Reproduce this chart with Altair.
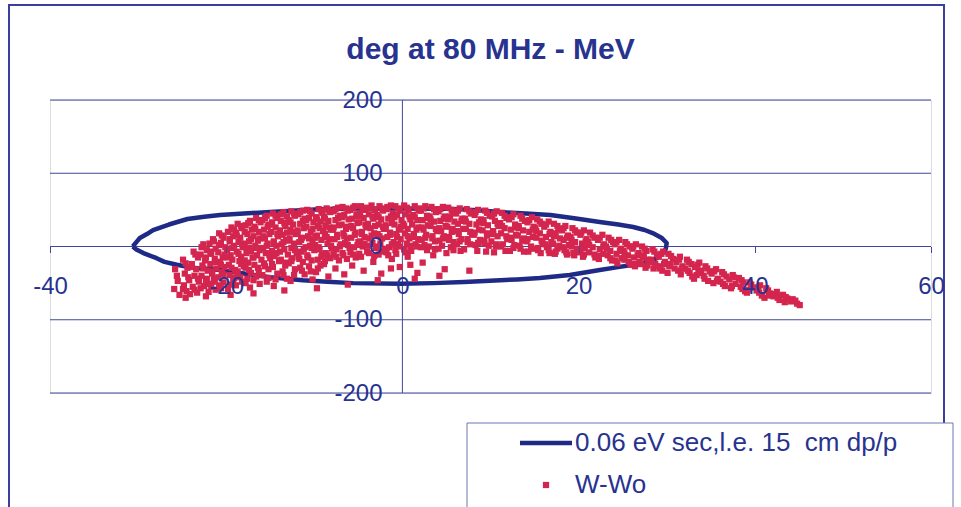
import altair as alt
import pandas as pd

# ---------------- data ----------------
title_text = "deg at 80 MHz - MeV"
series_names = ["0.06 eV sec,l.e. 15\u00a0 cm dp/p", "W-Wo"]
x_ticks = [-40, -20, 0, 20, 40, 60]
y_ticks = [-200, -100, 0, 100, 200]

# closed acceptance curve (deg, MeV), traced in drawing order
loop_pts = [(-30.6, 0), (-30.2, 6), (-29.8, 11.6), (-29.0, 17), (-28.3, 22.5), (-26.5, 30),
            (-24.4, 37.5), (-22.5, 40.5), (-20.7, 43), (-18.0, 45), (-15.0, 47), (-12.0, 49),
            (-9.4, 51), (-5.0, 52), (0.0, 52), (5.0, 51.5), (8.0, 50), (11.1, 47), (14.0, 45),
            (16.8, 43), (19.5, 38.5), (22.4, 33.5), (24.5, 30), (26.2, 26.6), (27.5, 22.5),
            (28.4, 18.4), (29.4, 12), (30.0, 4.8), (29.9, -3), (29.5, -10), (28.9, -16),
            (27.8, -21), (26.2, -25), (24.3, -28.5), (22.4, -32), (20.7, -35.5), (19.0, -39),
            (17.3, -41), (15.6, -43), (13.0, -45), (11.1, -46), (7.0, -48.5), (3.5, -50),
            (-0.2, -51), (-5.6, -50), (-8.5, -48), (-11.3, -46), (-15.0, -42), (-18.0, -37),
            (-20.7, -32), (-23.8, -29), (-25.6, -25), (-27.0, -21), (-27.9, -16), (-29.4, -9),
            (-30.2, -4), (-30.6, 0)]

cloud_left = [
    (-25.8, -31), (-25.5, -47), (-25.9, -58), (-25.3, -66), (-25.6, -40),
    (-24.9, -18), (-24.4, -29), (-24.7, -37), (-24.2, -46), (-24.8, -53), (-24.5, -61), (-24.1, -65),
    (-23.7, -7), (-23.2, -15), (-23.9, -24), (-23.4, -31), (-23.6, -40), (-23.1, -48), (-23.8, -55), (-23.3, -63),
    (-22.6, 3), (-22.2, -5), (-22.9, -11), (-22.4, -19), (-22.7, -26), (-22.1, -33), (-22.8, -40), (-22.3, -47), (-22.5, -54), (-22.0, -62),
    (-21.5, 10), (-21.9, 4), (-21.2, -3), (-21.7, -10), (-21.3, -17), (-21.8, -24), (-21.1, -30), (-21.6, -37), (-21.4, -44), (-21.9, -51), (-21.2, -59),
    (-20.8, 18), (-20.3, 12), (-20.6, 5), (-20.1, -1), (-20.9, -8), (-20.4, -15), (-20.7, -21), (-20.2, -28), (-20.5, -35), (-20.9, -42), (-20.3, -49), (-20.6, -57),
    (-19.4, 26), (-19.8, 20), (-19.2, 14), (-19.6, 7), (-19.1, 1), (-19.9, -5), (-19.5, -12), (-19.3, -18), (-19.7, -25), (-19.0, -32), (-19.6, -39), (-19.2, -47), (-19.8, -58),
    (-18.7, 31), (-18.2, 25), (-18.9, 19), (-18.4, 12), (-18.6, 6), (-18.1, -1), (-18.8, -7), (-18.3, -14), (-18.5, -20), (-18.0, -27), (-18.7, -34), (-18.4, -42), (-18.9, -53),
    (-17.3, 35), (-17.8, 29), (-17.1, 23), (-17.6, 17), (-17.2, 10), (-17.9, 4), (-17.4, -2), (-17.7, -9), (-17.0, -15), (-17.5, -22), (-17.8, -29), (-17.2, -36), (-17.6, -44), (-17.3, -56),
    (-16.6, 39), (-16.1, 33), (-16.8, 27), (-16.3, 20), (-16.9, 14), (-16.4, 8), (-16.7, 1), (-16.2, -5), (-16.5, -12), (-16.0, -18), (-16.8, -25), (-16.3, -33), (-16.6, -41), (-16.2, -51),
    (-15.4, 42), (-15.9, 36), (-15.2, 30), (-15.7, 23), (-15.1, 17), (-15.6, 11), (-15.3, 4), (-15.8, -2), (-15.5, -9), (-15.0, -16), (-15.7, -23), (-15.2, -31), (-15.9, -39), (-15.4, -48),
    (-14.7, 45), (-14.2, 39), (-14.8, 33), (-14.4, 26), (-14.9, 20), (-14.1, 14), (-14.6, 7), (-14.3, 1), (-14.8, -6), (-14.5, -13), (-14.0, -20), (-14.7, -28), (-14.2, -37), (-14.6, -54),
    (-13.5, 47), (-13.1, 41), (-13.8, 35), (-13.3, 28), (-13.9, 22), (-13.6, 16), (-13.2, 9), (-13.7, 3), (-13.4, -4), (-13.0, -11), (-13.8, -18), (-13.3, -26), (-13.6, -34), (-13.1, -44),
    (-12.6, 48), (-12.2, 42), (-12.9, 36), (-12.4, 30), (-12.7, 23), (-12.1, 17), (-12.8, 11), (-12.3, 4), (-12.6, -2), (-12.0, -9), (-12.5, -16), (-12.9, -23), (-12.2, -31), (-12.7, -47),
    (-11.3, 49), (-11.8, 44), (-11.1, 38), (-11.6, 31), (-11.2, 25), (-11.9, 19), (-11.4, 12), (-11.7, 6), (-11.0, -1), (-11.5, -7), (-11.8, -14), (-11.3, -21), (-11.6, -29), (-11.1, -38),
    (-10.8, 50), (-10.3, 45), (-10.6, 39), (-10.1, 33), (-10.9, 27), (-10.4, 20), (-10.7, 14), (-10.2, 8), (-10.5, 1), (-10.0, -5), (-10.8, -12), (-10.3, -19), (-10.6, -27), (-10.2, -45),
    (-24.6, -70), (-22.3, -68), (-19.5, -66), (-16.9, -64), (-13.4, -60),
]

cloud_center = [
    (-9.5, 51), (-9.1, 46), (-9.8, 40), (-9.3, 34), (-9.6, 28), (-9.0, 21), (-9.7, 15), (-9.2, 9), (-9.9, 2), (-9.4, -4), (-9.1, -11), (-9.6, -18), (-9.3, -26), (-9.8, -35),
    (-8.6, 52), (-8.2, 47), (-8.9, 41), (-8.4, 35), (-8.7, 29), (-8.1, 23), (-8.8, 17), (-8.3, 10), (-8.5, 4), (-8.0, -3), (-8.7, -9), (-8.2, -16), (-8.9, -24), (-8.4, -41),
    (-7.3, 53), (-7.8, 48), (-7.1, 42), (-7.6, 36), (-7.2, 29), (-7.9, 23), (-7.4, 16), (-7.7, 10), (-7.0, 3), (-7.5, -4), (-7.8, -11), (-7.2, -19), (-7.6, -30),
    (-6.8, 54), (-6.2, 49), (-6.6, 43), (-6.1, 37), (-6.9, 30), (-6.4, 24), (-6.7, 18), (-6.3, 11), (-6.5, 5), (-6.0, -2), (-6.8, -9), (-6.3, -17), (-6.6, -38),
    (-5.4, 55), (-5.9, 50), (-5.2, 44), (-5.7, 38), (-5.1, 32), (-5.6, 25), (-5.3, 19), (-5.8, 12), (-5.0, 6), (-5.5, -1), (-5.9, -8), (-5.3, -15), (-5.7, -26),
    (-4.7, 55), (-4.2, 50), (-4.8, 45), (-4.4, 39), (-4.9, 33), (-4.1, 26), (-4.6, 20), (-4.3, 13), (-4.8, 7), (-4.5, 0), (-4.0, -7), (-4.7, -14), (-4.4, -33),
    (-3.5, 56), (-3.1, 50), (-3.8, 44), (-3.3, 38), (-3.9, 31), (-3.6, 25), (-3.2, 18), (-3.7, 11), (-3.4, 5), (-3.0, -2), (-3.8, -9), (-3.3, -21),
    (-2.6, 55), (-2.2, 49), (-2.9, 43), (-2.4, 37), (-2.7, 30), (-2.1, 24), (-2.8, 17), (-2.3, 11), (-2.5, 4), (-2.0, -3), (-2.7, -11), (-2.4, -37),
    (-1.3, 56), (-1.8, 51), (-1.1, 45), (-1.6, 38), (-1.2, 32), (-1.9, 26), (-1.4, 19), (-1.7, 13), (-1.0, 6), (-1.5, -1), (-1.8, -8), (-1.2, -17),
    (-0.8, 55), (-0.3, 49), (-0.6, 43), (-0.1, 36), (-0.9, 30), (-0.4, 23), (-0.7, 17), (-0.2, 10), (-0.5, 3), (-0.8, -5), (-0.3, -28),
    (0.2, 56), (0.7, 50), (0.4, 44), (0.9, 37), (0.1, 31), (0.6, 24), (0.3, 18), (0.8, 11), (0.5, 4), (0.2, -4), (0.6, -14),
    (1.4, 55), (1.9, 49), (1.2, 43), (1.7, 36), (1.1, 30), (1.6, 23), (1.3, 17), (1.8, 10), (1.5, 3), (1.0, -6), (1.7, -36),
    (2.6, 55), (2.1, 49), (2.8, 42), (2.3, 36), (2.9, 29), (2.4, 23), (2.7, 16), (2.2, 9), (2.5, 2), (2.8, -5), (2.3, -22),
    (3.3, 54), (3.8, 47), (3.1, 41), (3.6, 34), (3.2, 28), (3.9, 21), (3.4, 14), (3.7, 7), (3.0, 0), (3.5, -12),
    (4.6, 54), (4.1, 48), (4.8, 41), (4.3, 35), (4.9, 28), (4.4, 21), (4.7, 14), (4.2, 8), (4.5, 1), (4.8, -31),
    (5.2, 53), (5.7, 47), (5.4, 41), (5.9, 34), (5.1, 27), (5.6, 20), (5.3, 13), (5.8, 6), (5.5, -1), (5.0, -9),
    (6.5, 52), (6.1, 45), (6.8, 38), (6.3, 31), (6.9, 24), (6.4, 17), (6.7, 10), (6.2, 3), (6.6, -6),
    (7.3, 51), (7.8, 45), (7.1, 38), (7.6, 31), (7.2, 24), (7.9, 17), (7.4, 10), (7.7, 3), (7.0, -4),
    (8.6, 50), (8.2, 43), (8.9, 37), (8.4, 30), (8.7, 23), (8.1, 16), (8.8, 9), (8.3, 2), (8.5, -6),
    (9.4, 49), (9.9, 42), (9.2, 36), (9.7, 29), (9.1, 22), (9.6, 15), (9.3, 8), (9.8, 1), (9.5, -7),
    (-9.7, -57), (-6.2, -52), (-2.8, -46), (1.4, -44), (4.2, -40), (7.6, -33), (0.9, -25), (-1.3, -30),
]

cloud_right = [
    (10.7, 48), (10.2, 41), (10.5, 35), (10.9, 28), (10.3, 21), (10.8, 14), (10.1, 7), (10.6, 0), (10.4, -8),
    (11.3, 46), (11.8, 39), (11.1, 32), (11.6, 25), (11.2, 18), (11.9, 10), (11.4, 3), (11.7, -6),
    (12.6, 44), (12.1, 37), (12.8, 30), (12.3, 23), (12.9, 16), (12.4, 9), (12.7, 2), (12.2, -6),
    (13.4, 42), (13.9, 35), (13.2, 28), (13.7, 22), (13.1, 15), (13.6, 8), (13.3, 1), (13.8, -7),
    (14.7, 40), (14.2, 33), (14.9, 27), (14.4, 20), (14.8, 13), (14.1, 7), (14.6, 0), (14.3, -7),
    (15.3, 37), (15.8, 31), (15.1, 25), (15.6, 18), (15.2, 12), (15.9, 5), (15.4, -2), (15.7, -9),
    (16.6, 34), (16.1, 27), (16.8, 20), (16.3, 13), (16.9, 6), (16.4, -1), (16.7, -9),
    (17.2, 31), (17.7, 24), (17.4, 18), (17.9, 11), (17.1, 4), (17.6, -3), (17.3, -10),
    (18.5, 28), (18.1, 22), (18.8, 15), (18.3, 9), (18.9, 2), (18.4, -5), (18.7, -11),
    (19.3, 25), (19.8, 19), (19.1, 13), (19.6, 6), (19.2, 0), (19.9, -6), (19.5, -12),
    (20.6, 22), (20.2, 16), (20.9, 10), (20.4, 4), (20.7, -2), (20.1, -8), (20.5, -14),
    (21.3, 19), (21.8, 12), (21.1, 6), (21.6, -1), (21.2, -8), (21.9, -15),
    (22.7, 16), (22.2, 9), (22.9, 3), (22.4, -4), (22.8, -10), (22.3, -17),
    (23.4, 12), (23.9, 6), (23.1, 0), (23.6, -6), (23.3, -12), (23.8, -19),
    (24.6, 9), (24.1, 3), (24.8, -3), (24.3, -10), (24.9, -16), (24.4, -23),
    (25.3, 6), (25.8, 0), (25.1, -6), (25.6, -12), (25.2, -18), (25.9, -25),
    (26.5, 3), (26.1, -3), (26.8, -9), (26.3, -15), (26.9, -21), (26.4, -27),
    (27.2, 0), (27.7, -6), (27.4, -12), (27.9, -18), (27.1, -24), (27.6, -29),
    (28.4, -4), (28.9, -11), (28.2, -18), (28.7, -24), (28.5, -30),
    (29.6, -7), (29.1, -14), (29.8, -21), (29.3, -27), (29.5, -33),
]

cloud_tail = [
    (30.2, -10), (30.7, -17), (30.4, -24), (30.9, -30), (30.1, -36),
    (31.5, -14), (31.1, -21), (31.8, -27), (31.3, -33), (31.6, -38),
    (32.3, -18), (32.8, -24), (32.1, -30), (32.6, -36), (32.9, -41),
    (33.7, -22), (33.2, -28), (33.9, -33), (33.4, -39), (33.1, -44),
    (34.4, -27), (34.9, -34), (34.2, -40), (34.7, -47),
    (35.6, -31), (35.1, -37), (35.8, -44), (35.3, -50),
    (36.3, -35), (36.8, -41), (36.1, -48), (36.6, -54),
    (37.5, -39), (37.1, -45), (37.8, -51), (37.3, -57),
    (38.2, -43), (38.7, -49), (38.4, -55), (38.9, -61),
    (39.4, -49), (39.8, -56), (39.1, -63),
    (40.6, -53), (40.2, -60), (40.8, -67),
    (41.3, -57), (41.7, -64), (41.1, -70),
    (42.5, -62), (42.1, -68), (42.8, -73),
    (43.2, -66), (43.7, -71), (43.4, -76),
    (44.3, -72), (44.8, -78),
    (45.1, -80),
]

cloud_fill = [
    (-24.6, -23), (-24.3, -42), (-24.9, -58),
    (-23.5, -11), (-23.9, -28), (-23.2, -44), (-23.6, -59),
    (-22.8, -1), (-22.3, -15), (-22.6, -30), (-22.2, -44), (-22.9, -57),
    (-21.4, 7), (-21.8, -7), (-21.2, -21), (-21.6, -34), (-21.3, -48), (-21.7, -55),
    (-20.5, 15), (-20.8, 2), (-20.2, -11), (-20.6, -25), (-20.3, -38), (-20.8, -53),
    (-19.1, 23), (-19.6, 10), (-19.3, -2), (-19.8, -15), (-19.4, -29), (-19.1, -43), (-19.5, -52),
    (-18.3, 28), (-18.8, 15), (-18.2, 3), (-18.6, -10), (-18.3, -24), (-18.8, -38), (-18.2, -48),
    (-17.5, 32), (-17.9, 20), (-17.4, 7), (-17.2, -6), (-17.9, -19), (-17.4, -32), (-17.8, -50),
    (-16.3, 36), (-16.7, 24), (-16.2, 11), (-16.5, -2), (-16.9, -15), (-16.4, -29), (-16.9, -46),
    (-15.6, 39), (-15.3, 27), (-15.8, 14), (-15.4, 1), (-15.1, -12), (-15.6, -27), (-15.2, -43),
    (-14.4, 42), (-14.8, 30), (-14.2, 17), (-14.6, 4), (-14.3, -9), (-14.8, -24), (-14.4, -45),
    (-13.8, 44), (-13.4, 32), (-13.1, 19), (-13.5, 6), (-13.9, -7), (-13.2, -22), (-13.5, -39),
    (-12.3, 45), (-12.7, 33), (-12.4, 20), (-12.9, 8), (-12.2, -5), (-12.6, -20), (-12.3, -39),
    (-11.6, 47), (-11.3, 35), (-11.9, 22), (-11.5, 9), (-11.2, -4), (-11.7, -17), (-11.4, -33),
    (-10.5, 48), (-10.9, 36), (-10.2, 24), (-10.6, 11), (-10.3, -2), (-10.7, -15), (-10.4, -34),
    (-9.2, 49), (-9.7, 37), (-9.4, 25), (-9.9, 12), (-9.5, -1), (-9.2, -14), (-9.6, -30),
    (-8.4, 50), (-8.8, 38), (-8.3, 26), (-8.6, 13), (-8.1, 1), (-8.5, -12), (-8.8, -20),
    (-7.6, 51), (-7.3, 39), (-7.8, 26), (-7.4, 13), (-7.1, 0), (-7.5, -14),
    (-6.4, 52), (-6.8, 40), (-6.3, 27), (-6.6, 14), (-6.2, 2), (-6.7, -12),
    (-5.6, 53), (-5.2, 41), (-5.8, 28), (-5.4, 16), (-5.1, 2), (-5.6, -11),
    (-4.5, 53), (-4.9, 42), (-4.2, 30), (-4.6, 17), (-4.3, 4), (-4.9, -10),
    (-3.8, 53), (-3.4, 41), (-3.1, 28), (-3.5, 15), (-3.9, 1), (-3.2, -13),
    (-2.3, 52), (-2.7, 40), (-2.2, 27), (-2.6, 14), (-2.9, 0), (-2.2, -7),
    (-1.7, 54), (-1.3, 41), (-1.9, 29), (-1.4, 16), (-1.2, 3), (-1.6, -12),
    (-0.5, 52), (-0.9, 40), (-0.2, 27), (-0.6, 13), (-0.3, 0), (-0.7, -10),
    (0.5, 53), (0.8, 41), (0.2, 28), (0.6, 14), (0.9, 1), (0.4, -8),
    (1.7, 52), (1.4, 40), (1.8, 26), (1.3, 13), (1.6, 0),
    (2.4, 52), (2.8, 39), (2.2, 26), (2.6, 12), (2.1, -1),
    (3.6, 51), (3.2, 37), (3.8, 24), (3.4, 11), (3.7, -4),
    (4.3, 51), (4.7, 38), (4.2, 25), (4.6, 11), (4.1, -3),
    (5.6, 50), (5.2, 37), (5.7, 24), (5.3, 9), (5.8, -5),
    (6.3, 49), (6.7, 35), (6.2, 21), (6.5, 7),
    (7.6, 48), (7.2, 34), (7.7, 20), (7.4, 6),
    (8.3, 47), (8.7, 33), (8.2, 19), (8.6, 5),
    (9.6, 46), (9.2, 32), (9.7, 18), (9.3, 4),
    (10.4, 45), (10.8, 31), (10.3, 17), (10.7, 3),
    (11.6, 42), (11.3, 28), (11.8, 14), (11.2, 0),
    (12.4, 40), (12.8, 26), (12.3, 12), (12.6, -2),
    (13.6, 38), (13.2, 25), (13.8, 11), (13.4, -3),
    (14.4, 36), (14.8, 23), (14.2, 10), (14.7, -3),
    (15.6, 34), (15.2, 21), (15.8, 8), (15.4, -5),
    (16.3, 30), (16.7, 17), (16.2, 3), (16.6, -5),
    (17.6, 28), (17.2, 14), (17.8, 1), (17.4, -7),
    (18.3, 25), (18.7, 12), (18.2, -1), (18.6, -8),
    (19.6, 22), (19.2, 9), (19.8, -3), (19.4, -9),
    (20.3, 19), (20.8, 7), (20.2, -5), (20.6, -11),
    (21.6, 15), (21.2, 2), (21.8, -11),
    (22.4, 12), (22.8, 0), (22.2, -13),
    (23.7, 9), (23.2, -3), (23.6, -16),
    (24.3, 6), (24.7, -6), (24.2, -19),
    (25.5, 3), (25.2, -9), (25.7, -21),
    (26.2, 0), (26.7, -12), (26.3, -24),
    (27.5, -3), (27.3, -15), (27.8, -26),
    (28.6, -7), (28.3, -21), (28.8, -27),
    (29.4, -10), (29.7, -24), (29.2, -30),
    (30.5, -13), (30.3, -27), (31.4, -18), (31.7, -30), (32.5, -21), (32.4, -33),
    (33.5, -25), (33.6, -36), (34.6, -30), (34.3, -44), (35.4, -34), (35.7, -47),
    (36.5, -38), (36.4, -51), (37.6, -42), (37.4, -54), (38.5, -46), (38.6, -58),
    (39.6, -52), (39.3, -59), (40.4, -56), (40.5, -63), (41.5, -60), (41.6, -67),
    (42.3, -65), (42.6, -70), (43.5, -69), (44.1, -75), (44.6, -74),
]

# ---------------- style ----------------
FONT = "Liberation Sans"
TEXT = "#27338f"
GRID = "#41479b"
LOOP = "#1f2a86"
RED = "#d4254f"
LINE_PATH = "M-2,-0.17H2V0.17H-2Z"       # legend line symbol
DOT_PATH = "M-0.24,-0.24H0.24V0.24H-0.24Z"  # small square marker

W, H = 881, 293
xs = alt.Scale(domain=[-40, 60], nice=False, zero=False)
ys = alt.Scale(domain=[-200, 200], nice=False, zero=False)

x_axis = alt.Axis(values=x_ticks, title=None, grid=False, domain=False, offset=-146.5,
                  ticks=True, tickSize=6, tickColor=GRID, labelPadding=22,
                  labelFont=FONT, labelFontSize=24, labelColor=TEXT, labelFlush=False,
                  labelOverlap=False, labelBound=False, labelExpr="'' + datum.value", zindex=1)
y_axis = alt.Axis(values=y_ticks, title=None, grid=False, domain=False, offset=-352,
                  ticks=False, labelPadding=20,
                  labelFont=FONT, labelFontSize=24, labelColor=TEXT, labelFlush=False,
                  labelOverlap=False, labelBound=False, labelExpr="'' + datum.value", zindex=1)

hgrid = alt.Chart(pd.DataFrame({"y": y_ticks})).mark_rule(color=GRID, strokeWidth=1).encode(
    y=alt.Y("y:Q", scale=ys, axis=y_axis))
vline = alt.Chart(pd.DataFrame({"x": [0]})).mark_rule(color=GRID, strokeWidth=1).encode(
    x=alt.X("x:Q", scale=xs, axis=x_axis))

loop_df = pd.DataFrame(loop_pts, columns=["x", "y"])
loop_df["i"] = range(len(loop_df))
loop = alt.Chart(loop_df).mark_line(color=LOOP, strokeWidth=4.5, strokeJoin="round").encode(
    x=alt.X("x:Q", scale=xs, axis=x_axis),
    y=alt.Y("y:Q", scale=ys, axis=y_axis),
    order="i:Q")

pts_df = pd.DataFrame(cloud_left + cloud_center + cloud_right + cloud_tail + cloud_fill,
                      columns=["x", "y"])
pts_df["series"] = series_names[1]

leg = alt.Legend(title=None, orient="none", legendX=483, legendY=330, padding=0,
                 labelFont=FONT, labelFontSize=26, labelColor=TEXT, labelOffset=16,
                 labelLimit=600, rowPadding=16, symbolSize=676, symbolStrokeWidth=0,
                 symbolOpacity=1)

points = alt.Chart(pts_df).mark_point(filled=True, opacity=1, size=676, strokeWidth=0).encode(
    x=alt.X("x:Q", scale=xs, axis=x_axis),
    y=alt.Y("y:Q", scale=ys, axis=y_axis),
    color=alt.Color("series:N", scale=alt.Scale(domain=series_names, range=[LOOP, RED]), legend=leg),
    shape=alt.Shape("series:N", scale=alt.Scale(domain=series_names, range=[LINE_PATH, DOT_PATH]), legend=leg))

deco = pd.DataFrame({"k": [0]})
chart_border = alt.Chart(deco).mark_rect(fillOpacity=0, stroke="#3a409a", strokeWidth=2).encode(
    x=alt.value(-41), x2=alt.value(894), y=alt.value(-95), y2=alt.value(440))
legend_box = alt.Chart(deco).mark_rect(fill="white", stroke="#6f74b0", strokeWidth=1).encode(
    x=alt.value(417), x2=alt.value(903), y=alt.value(323), y2=alt.value(440))

chart = alt.layer(chart_border, legend_box, hgrid, vline, loop, points).properties(
    width=W, height=H,
    autosize=alt.AutoSizeParams(type="none"),
    padding={"left": 50, "top": 100, "right": 30, "bottom": 114},
    title=alt.TitleParams(title_text, font=FONT, fontSize=30, fontWeight="bold", color=TEXT,
                          anchor="middle", offset=35, dy=96),
).configure_view(stroke=GRID, strokeWidth=1).configure(background="white")

chart.save("out.html", embed_options={"renderer": "svg", "actions": False})
